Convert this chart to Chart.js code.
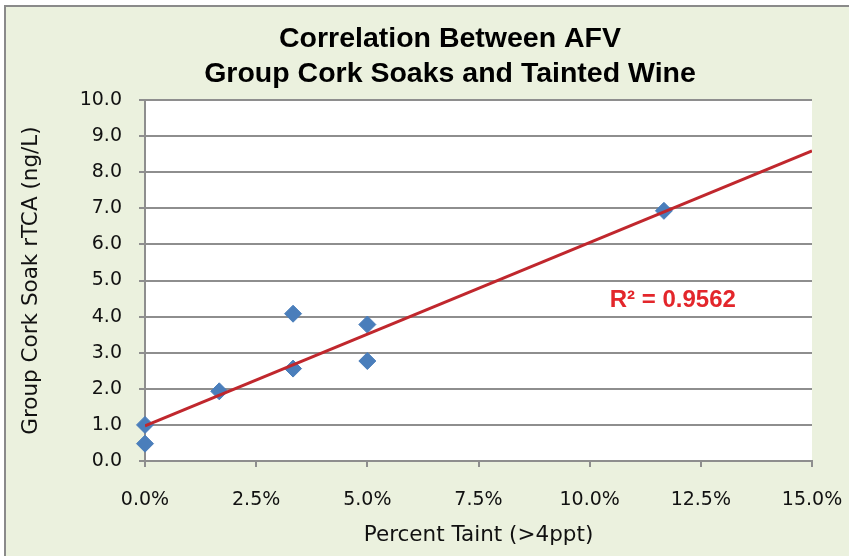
<!DOCTYPE html>
<html>
<head>
<meta charset="utf-8">
<script src="https://cdn.jsdelivr.net/npm/chart.js@4.4.1/dist/chart.umd.min.js"></script>
<style>
  html, body { margin: 0; padding: 0; background: #ffffff; }
  #frame {
    position: absolute; left: 4px; top: 5px; width: 900px; height: 600px;
    background: #EBF1DE; border: 2px solid #8a8a8a;
  }
  #chart { position: absolute; left: 0; top: 0; }
</style>
</head>
<body>
<div id="frame"></div>
<canvas id="chart" width="849" height="556"></canvas>
<script>
// percent taint (>4ppt) vs group cork soak rTCA (ng/L)
const taintPct = [0, 0, 1.67, 3.33, 3.33, 5.0, 5.0, 11.67];
const soakTCA = [1.0, 0.48, 1.93, 4.08, 2.56, 3.78, 2.77, 6.93];

// linear trendline
const trendX = [0, 15];
const trendY = [0.97, 8.59];
const rSquaredLabel = 'R² = 0.9562';
const labelAt = [11.87, 4.44];

const titleLines = ['Correlation Between AFV', 'Group Cork Soaks and Tainted Wine'];
const xTitle = 'Percent Taint (>4ppt)';
const yTitle = 'Group Cork Soak rTCA (ng/L)';

const gridGray = '#8e8e8e';
const tickFont = { family: 'DejaVu Sans', size: 19 };
const axisTitleFont = { family: 'DejaVu Sans', size: 21.5 };

const titlePlugin = {
    id: 'bigTitle',
    afterDraw(chart) {
        const ctx = chart.ctx;
        ctx.save();
        ctx.fillStyle = '#000';
        ctx.font = 'bold 28.5px "Liberation Sans"';
        ctx.textAlign = 'center';
        ctx.textBaseline = 'alphabetic';
        ctx.fillText(titleLines[0], 450, 47);
        ctx.fillText(titleLines[1], 450, 82);

        // R² label next to the trendline
        const xs = chart.scales.x, ys = chart.scales.y;
        ctx.fillStyle = '#E3262B';
        ctx.font = 'bold 24px "Liberation Sans"';
        ctx.textBaseline = 'middle';
        ctx.fillText(rSquaredLabel, xs.getPixelForValue(labelAt[0]), ys.getPixelForValue(labelAt[1]));
        ctx.restore();
    }
};

new Chart(document.getElementById('chart').getContext('2d'), {
    type: 'scatter',
    data: {
        datasets: [
            {
                label: 'Trend',
                data: trendX.map((x, i) => ({ x: x, y: trendY[i] })),
                showLine: true,
                borderColor: '#C0272D',
                borderWidth: 3,
                pointRadius: 0,
                order: 0
            },
            {
                label: 'Soaks',
                data: taintPct.map((x, i) => ({ x: x, y: soakTCA[i] })),
                pointStyle: 'rectRot',
                pointRadius: 8.5,
                backgroundColor: '#4A7EBB',
                borderColor: '#4A7EBB',
                borderWidth: 1,
                clip: false,
                order: 1
            }
        ]
    },
    options: {
        responsive: false,
        animation: false,
        layout: { padding: { top: 100, right: 37, left: 0, bottom: 0 } },
        plugins: {
            legend: { display: false },
            tooltip: { enabled: false }
        },
        scales: {
            x: {
                type: 'linear',
                min: 0,
                max: 15,
                afterFit: s => {
                    s.height = 95;
                    s.paddingLeft = 0;
                    s.paddingRight = 0;
                },
                ticks: {
                    stepSize: 2.5,
                    padding: 22,
                    color: '#111',
                    font: tickFont,
                    maxRotation: 0,
                    callback: v => v.toFixed(1) + '%'
                },
                grid: {
                    drawOnChartArea: false,
                    drawTicks: true,
                    tickLength: 6,
                    color: gridGray,
                    lineWidth: 2
                },
                border: { display: true, color: gridGray, width: 2 },
                title: {
                    display: true,
                    text: xTitle,
                    color: '#111',
                    font: axisTitleFont,
                    padding: { top: 0, bottom: 8 }
                }
            },
            y: {
                min: 0,
                max: 10,
                afterFit: s => { s.width = 145; },
                ticks: {
                    stepSize: 1,
                    padding: 17,
                    color: '#111',
                    font: tickFont,
                    callback: v => v.toFixed(1)
                },
                grid: {
                    drawTicks: true,
                    tickLength: 6,
                    color: gridGray,
                    lineWidth: 2
                },
                border: { display: true, color: gridGray, width: 2 },
                title: {
                    display: true,
                    text: yTitle,
                    color: '#111',
                    font: axisTitleFont,
                    padding: { top: 19, bottom: 0 }
                }
            }
        }
    },
    plugins: [titlePlugin, {
        id: 'plotBg',
        beforeDraw(chart) {
            const a = chart.chartArea, ctx = chart.ctx;
            ctx.save();
            ctx.fillStyle = '#ffffff';
            ctx.fillRect(a.left, a.top, a.right - a.left, a.bottom - a.top);
            ctx.restore();
        }
    }]
});
</script>
</body>
</html>
